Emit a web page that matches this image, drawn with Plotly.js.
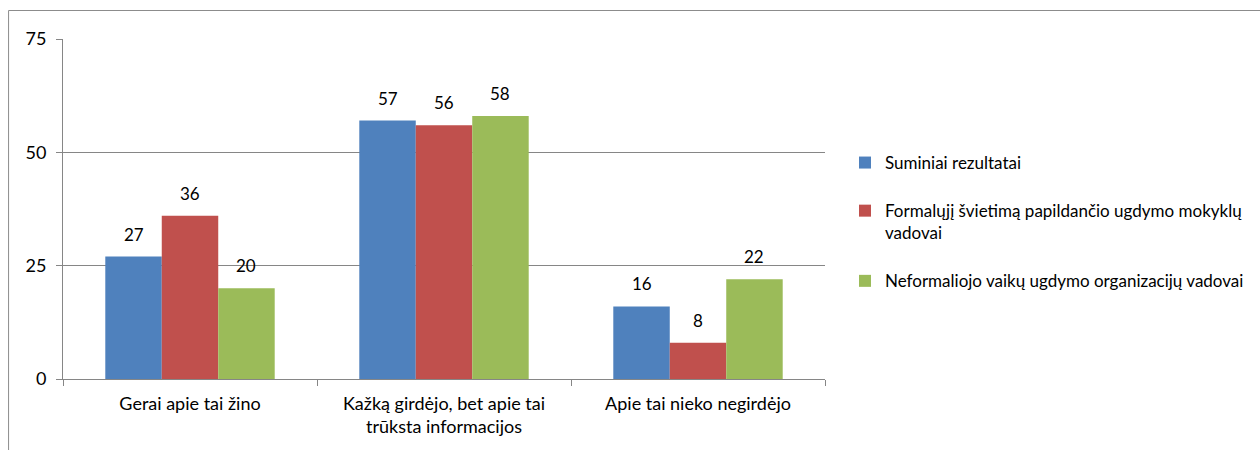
<!DOCTYPE html>
<html>
<head>
<meta charset="utf-8">
<script src="https://cdn.plot.ly/plotly-3.0.1.min.js"></script>
<style>html,body{margin:0;padding:0;background:#fff;}#chart{width:1260px;height:450px;}</style>
</head>
<body>
<div id="chart"></div>
<script>
const categories = ['Gerai apie tai žino', 'Kažką girdėjo, bet apie tai<br>trūksta informacijos', 'Apie tai nieko negirdėjo'];
const seriesNames = ['Suminiai rezultatai', 'Formalųjį švietimą papildančio ugdymo mokyklų<br>vadovai', 'Neformaliojo vaikų ugdymo organizacijų vadovai'];
const suminiai = [27, 57, 16];
const formalieji = [36, 56, 8];
const neformalieji = [20, 58, 22];
const yTicks = [0, 25, 50, 75];

const seriesValues = [suminiai, formalieji, neformalieji];
const colors = ['#4F81BD', '#C0504D', '#9BBB59'];
const FONT = 'Lato, "Noto Sans", sans-serif';
const bargap = 0.333;
const barW = (1 - bargap) / seriesValues.length;

const traces = seriesValues.map((vals, k) => ({
  type: 'bar',
  x: categories,
  y: vals,
  name: seriesNames[k],
  legendgroup: 'g' + k,
  marker: {color: colors[k], line: {width: 0}},
  hoverinfo: 'skip'
}));

const annotations = [];
seriesValues.forEach((vals, k) => {
  vals.forEach((v, i) => {
    annotations.push({
      x: i + (k - (seriesValues.length - 1) / 2) * barW,
      y: v, xref: 'x', yref: 'y',
      text: String(v), showarrow: false,
      yanchor: 'bottom', yshift: 10,
      font: {family: FONT, size: 17, color: '#000'}
    });
  });
});

const L = 63, R = 434, T = 39, B = 71;
const pw = 1260 - L - R, ph = 450 - T - B;
const px = v => (v - L) / pw;
const py = v => (450 - B - v) / ph;

const layout = {
  width: 1260, height: 450,
  margin: {l: L, r: R, t: T, b: B, pad: 0},
  paper_bgcolor: '#fff', plot_bgcolor: '#fff',
  barmode: 'group', bargap: bargap, bargroupgap: 0,
  font: {family: FONT, size: 17, color: '#000'},
  showlegend: true,
  legend: {
    orientation: 'v', x: px(845), xanchor: 'left', y: py(145), yanchor: 'top',
    font: {family: FONT, size: 17, color: '#000'},
    tracegroupgap: 23, valign: 'top', bgcolor: 'rgba(0,0,0,0)',
    traceorder: 'grouped'
  },
  xaxis: {
    type: 'category', showgrid: false, zeroline: false,
    showline: true, linecolor: '#868686', linewidth: 1,
    ticks: 'outside', tickson: 'boundaries', ticklen: 6, tickcolor: '#868686', tickwidth: 1,
    ticklabelstandoff: 8,
    tickfont: {family: FONT, size: 18, color: '#000'}
  },
  yaxis: {
    range: [0, 75], tickvals: yTicks, ticktext: yTicks.map(String),
    showgrid: true, gridcolor: '#868686', gridwidth: 1, zeroline: false,
    showline: true, linecolor: '#868686', linewidth: 1,
    ticks: 'outside', ticklen: 6, tickcolor: '#868686', tickwidth: 1,
    ticklabelstandoff: 6,
    tickfont: {family: FONT, size: 18, color: '#000'}
  },
  annotations: annotations,
  shapes: [{
    type: 'rect', xref: 'paper', yref: 'paper',
    x0: px(8.5), x1: px(1300), y0: py(480), y1: py(10.5),
    line: {color: '#8C8C8C', width: 1}, fillcolor: 'rgba(0,0,0,0)', layer: 'below'
  }]
};

Plotly.newPlot('chart', traces, layout, {displayModeBar: false, staticPlot: true});
</script>
</body>
</html>
